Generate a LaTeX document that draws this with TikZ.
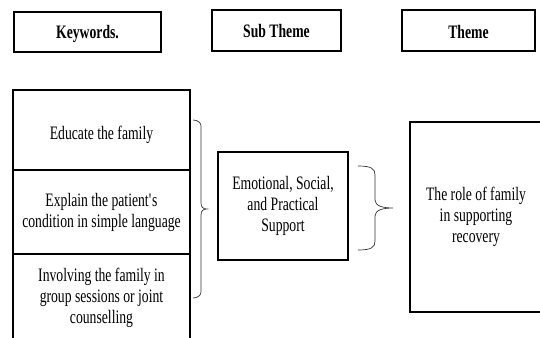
\documentclass[tikz,border=0pt]{standalone}
\usepackage{fontspec}
\setmainfont[FakeStretch=0.72]{Liberation Serif}
\usepackage{tikz}

\tikzset{
	headbox/.style={draw, line width=1.2pt, align=center, inner sep=0pt,
		font=\fontsize{19}{21}\selectfont\bfseries},
	textbox/.style={draw, line width=1.1pt, align=center, inner sep=0pt,
		font=\fontsize{19}{21}\selectfont},
	bracket/.style={line width=0.7pt, draw=black!80}
}

\begin{document}
\begin{tikzpicture}[x=1pt, y=-1pt]
	\useasboundingbox (0,0) rectangle (540,337);

	% headers
	\node[headbox, minimum width=147pt, minimum height=40pt] (kwhead) at (87.5,32) {\raisebox{-2pt}[\height][\depth]{Keywords.}};
	\node[headbox, minimum width=129pt, minimum height=41pt] (subhead) at (276.5,30.5) {\raisebox{-1pt}[\height][\depth]{Sub Theme}};
	\node[headbox, minimum width=133pt, minimum height=41pt] (themehead) at (468.5,30.5) {\raisebox{-1pt}[\height][\depth]{Theme}};

	% keywords
	\node[textbox, minimum width=177pt, minimum height=80pt] (kwa) at (101.5,130) {\raisebox{-5pt}[\height][\depth]{Educate the family}};
	\node[textbox, minimum width=177pt, minimum height=84pt] (kwb) at (101.5,212) {Explain the patient\textquotesingle s\\condition in simple language};
	\node[textbox, minimum width=177pt, minimum height=88pt] (kwc) at (101.5,298) {Involving the family in\\group sessions or joint\\counselling};

	% sub theme
	\node[textbox, minimum width=130pt, minimum height=108pt] (subbox) at (283,206) {Emotional, Social,\\and Practical\\Support};

	% theme
	\node[textbox, minimum width=132pt, minimum height=190pt] (themebox) at (476,217) {The role of family\\in supporting\\recovery};

	% braces
	\coordinate (bracea) at (193,120);
	\coordinate (braceb) at (358,166);
	\draw[bracket] (bracea) .. controls +(5,0) and +(0,-3) .. ++(8,6) -- ++(0,77)
		.. controls +(0,4) and +(-4,0) .. ++(6,6)
		.. controls +(-4,0) and +(0,-4) .. ++(-6,6) -- ++(0,77)
		.. controls +(0,3) and +(5,0) .. ++(-8,6);
	\draw[bracket] (braceb) .. controls +(14,0) and +(0,-6) .. ++(17,9) -- ++(0,25)
		.. controls +(0,6) and +(-10,0) .. ++(18,8)
		.. controls +(-10,0) and +(0,-6) .. ++(-18,8) -- ++(0,25)
		.. controls +(0,6) and +(14,0) .. ++(-17,9);

\end{tikzpicture}
\end{document}
